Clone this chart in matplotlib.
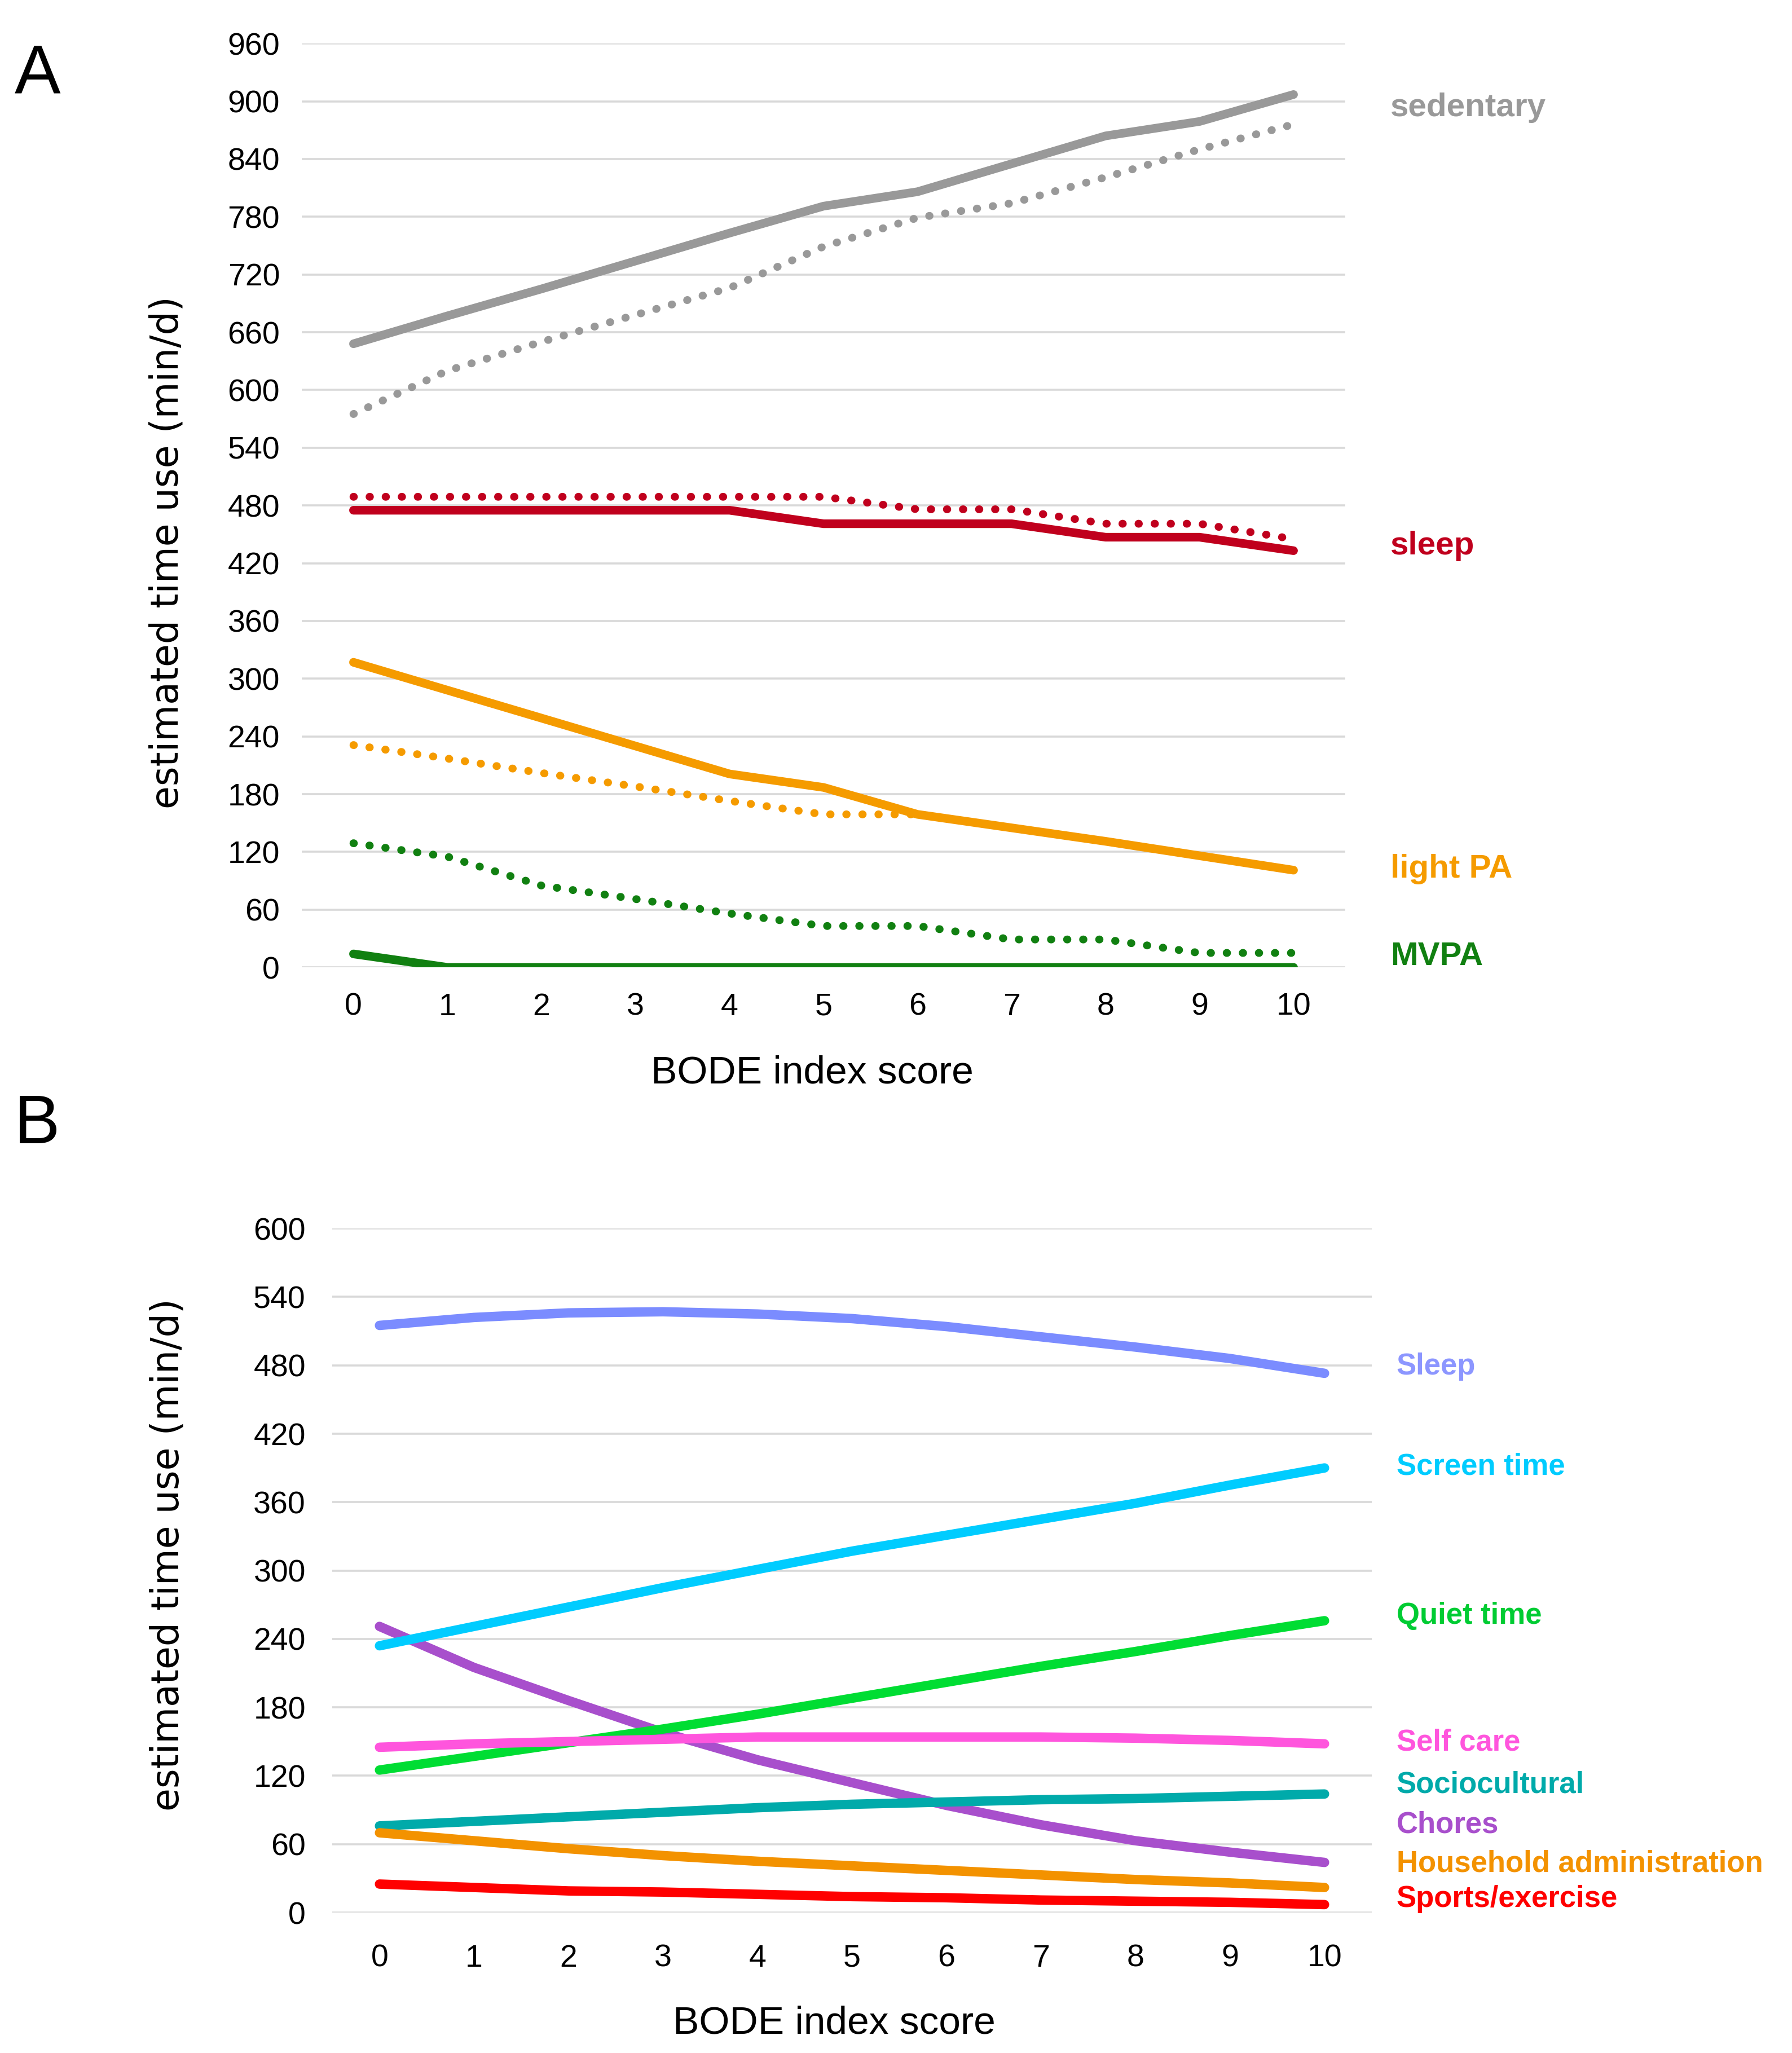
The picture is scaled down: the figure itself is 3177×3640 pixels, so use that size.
import matplotlib
matplotlib.use("Agg")
import matplotlib.pyplot as plt

# BODE index score (x axis for both panels)
bode = list(range(11))

# Panel A - estimated time use (min/d), solid and dotted versions
sedentary = [648, 677, 705, 734, 763, 791, 806, 835, 864, 879, 907]
sedentary_dot = [575, 620, 650, 678, 706, 749, 779, 794, 821, 850, 876]
sleep_a = [475, 475, 475, 475, 475, 461, 461, 461, 447, 447, 433]
sleep_a_dot = [489, 489, 489, 489, 489, 489, 476, 476, 461, 461, 445]
light_pa = [317, 288, 259, 230, 201, 187, 159, 145, 131, 116, 101]
light_pa_dot = [231, 217, 202, 188, 173, 159, 159, 145, 131, 116, 101]
mvpa = [14, 0, 0, 0, 0, 0, 0, 0, 0, 0, 0]
mvpa_dot = [129, 115, 85, 71, 56, 43, 43, 29, 29, 15, 15]

# Panel B - activity domains
sleep_b = [515, 522, 526, 527, 525, 521, 514, 505, 496, 486, 473]
screen_time = [234, 251, 268, 285, 301, 317, 331, 345, 359, 375, 390]
quiet_time = [125, 137, 149, 161, 174, 188, 202, 216, 229, 243, 256]
self_care = [145, 148, 150, 152, 154, 154, 154, 154, 153, 151, 148]
sociocultural = [76, 80, 84, 88, 92, 95, 97, 99, 100, 102, 104]
chores = [251, 215, 186, 158, 134, 114, 94, 77, 63, 53, 44]
household_admin = [70, 63, 56, 50, 45, 41, 37, 33, 29, 26, 22]
sports = [25, 22, 19, 18, 16, 14, 13, 11, 10, 9, 7]

ticks_a = list(range(0, 961, 60))
ticks_b = list(range(0, 601, 60))

FONT = ['Liberation Sans', 'DejaVu Sans']
GRID = '#d9d9d9'
DOTS = (0, (0.05, 2.0))


def style_axes(ax, yticks, xlim, ypad, xpad):
    for s in ax.spines.values():
        s.set_visible(False)
    ax.set_xlim(*xlim)
    ax.set_ylim(yticks[0], yticks[-1])
    ax.set_yticks(yticks)
    ax.set_xticks(bode)
    ax.yaxis.grid(True, color=GRID, linewidth=1.3, zorder=0)
    ax.set_axisbelow(True)
    ax.tick_params(length=0)
    ax.tick_params(axis='y', pad=ypad)
    ax.tick_params(axis='x', pad=xpad)
    for lab in ax.get_xticklabels() + ax.get_yticklabels():
        lab.set_family(FONT)
        lab.set_fontsize(20)


fig = plt.figure(figsize=(3177 / 200, 3640 / 200), dpi=200)

# ---------------- panel A ----------------
ax = fig.add_axes([0.1684, 0.5288, 0.5823, 0.45])
style_axes(ax, ticks_a, (-0.55, 10.55), 14, 16)

lw = 5.5
lwd = 5
ax.plot(bode, light_pa_dot, color='#f59b00', lw=lwd, ls=DOTS, dash_capstyle='round')
ax.plot(bode, light_pa, color='#f59b00', lw=lw, solid_capstyle='round')
ax.plot(bode, sedentary_dot, color='#999999', lw=lwd, ls=DOTS, dash_capstyle='round')
ax.plot(bode, sedentary, color='#999999', lw=lw, solid_capstyle='round')
ax.plot(bode, sleep_a_dot, color='#c0001d', lw=lwd, ls=DOTS, dash_capstyle='round')
ax.plot(bode, sleep_a, color='#c0001d', lw=lw, solid_capstyle='round')
ax.plot(bode, mvpa_dot, color='#118011', lw=lwd, ls=DOTS, dash_capstyle='round')
ax.plot(bode, mvpa, color='#118011', lw=lw, solid_capstyle='round')

labels_a = [('sedentary', '#999999', 893), ('sleep', '#c0001d', 438),
            ('light PA', '#f59b00', 102), ('MVPA', '#118011', 11)]
for txt, col, ypos in labels_a:
    ax.text(11.03, ypos, txt, color=col, fontsize=21, fontweight='bold',
            family=FONT, va='center', ha='left', clip_on=False)

ax.set_ylabel('estimated time use (min/d)', fontsize=24, family='DejaVu Sans')
ax.yaxis.set_label_coords(-0.111, 0.449)
ax.set_xlabel('BODE index score', fontsize=25, family=FONT)
ax.xaxis.set_label_coords(0.489, -0.095)

# ---------------- panel B ----------------
bx = fig.add_axes([0.1854, 0.0684, 0.5801, 0.3332])
style_axes(bx, ticks_b, (-0.5, 10.5), 17, 20)

lwb = 6
series_b = [
    (chores, '#a84fcc', 'Chores', 77),
    (quiet_time, '#00dd33', 'Quiet time', 260),
    (self_care, '#ff55dd', 'Self care', 149),
    (sociocultural, '#00aaaa', 'Sociocultural', 112),
    (household_admin, '#f39200', 'Household administration', 43),
    (sports, '#ff0000', 'Sports/exercise', 12),
    (screen_time, '#00ccff', 'Screen time', 391),
    (sleep_b, '#7b8cff', 'Sleep', 479),
]
label_colors = {'Sleep': '#8c96ff', 'Quiet time': '#00cc33'}
for vals, col, name, ypos in series_b:
    bx.plot(bode, vals, color=col, lw=lwb, solid_capstyle='round')
    bx.text(10.76, ypos, name, color=label_colors.get(name, col), fontsize=19,
            fontweight='bold', family=FONT, va='center', ha='left', clip_on=False)

bx.set_ylabel('estimated time use (min/d)', fontsize=24, family='DejaVu Sans')
bx.yaxis.set_label_coords(-0.1405, 0.523)
bx.set_xlabel('BODE index score', fontsize=25, family=FONT)
bx.xaxis.set_label_coords(0.483, -0.136)

# panel letters
fig.text(0.008, 0.963, 'A', fontsize=44, family='Liberation Sans', va='center')
fig.text(0.008, 0.452, 'B', fontsize=44, family='Liberation Sans', va='center')

fig.savefig('out.png', dpi=200, facecolor='white')
